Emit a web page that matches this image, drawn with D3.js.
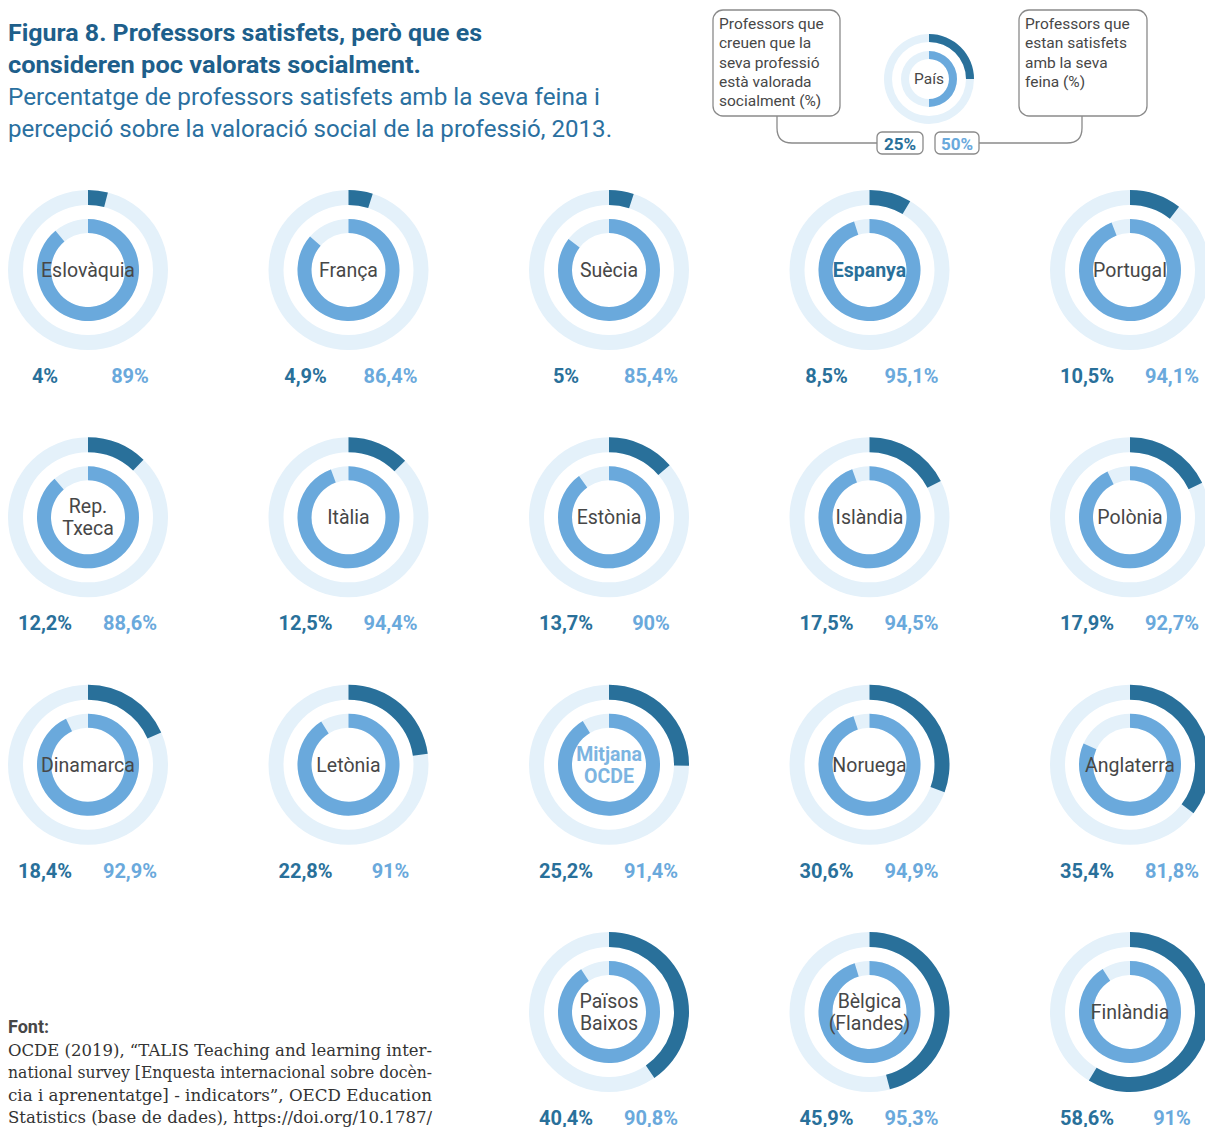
<!DOCTYPE html>
<html>
<head>
<meta charset="utf-8">
<script src="https://cdnjs.cloudflare.com/ajax/libs/d3/7.8.5/d3.min.js"></script>
<style>
  body { margin: 0; background: #fff; }
  svg { display: block; font-family: Roboto, "Noto Sans", sans-serif; }
</style>
</head>
<body>
<svg id="chart" width="1205" height="1127"></svg>
<script>
// data
var countries = ["Eslovàquia", "França", "Suècia", "Espanya", "Portugal",
  "Rep.|Txeca", "Itàlia", "Estònia", "Islàndia", "Polònia",
  "Dinamarca", "Letònia", "Mitjana|OCDE", "Noruega", "Anglaterra",
  "Països|Baixos", "Bèlgica|(Flandes)", "Finlàndia"];
var valorada = [4, 4.9, 5, 8.5, 10.5, 12.2, 12.5, 13.7, 17.5, 17.9,
  18.4, 22.8, 25.2, 30.6, 35.4, 40.4, 45.9, 58.6];
var satisfets = [89, 86.4, 85.4, 95.1, 94.1, 88.6, 94.4, 90, 94.5, 92.7,
  92.9, 91, 91.4, 94.9, 81.8, 90.8, 95.3, 91];
var legendValues = [25, 50];
var legendLeft = ["Professors que", "creuen que la", "seva professió", "està valorada", "socialment (%)"];
var legendRight = ["Professors que", "estan satisfets", "amb la seva", "feina (%)"];
var sourceLines = ["OCDE (2019), “TALIS Teaching and learning inter-",
  "national survey [Enquesta internacional sobre docèn-",
  "cia i aprenentatge] - indicators”, OECD Education",
  "Statistics (base de dades), https://doi.org/10.1787/"];

var DARK = "#29709a", LIGHT = "#6aa9dc", PALE = "#e4f1fa", GREY = "#474747";

var svg = d3.select("#chart");

function fmt(v) { return String(v).replace(".", ",") + "%"; }

var angle = d3.scaleLinear().domain([0, 100]).range([0, 2 * Math.PI]);
var x = d3.scaleLinear().domain([0, 4]).range([88, 1130]);
var y = d3.scaleLinear().domain([0, 3]).range([270, 1012]);

// title
var title = svg.append("g");
var titleW = [474, 413], subW = [592, 604];
title.selectAll("text.t")
  .data(["Figura 8. Professors satisfets, però que es", "consideren poc valorats socialment."])
  .enter().append("text")
  .attr("x", 8).attr("y", function(d, i) { return 41 + i * 32; })
  .attr("font-size", 24).attr("font-weight", 700).attr("fill", "#1e5f8b")
  .attr("textLength", function(d, i) { return titleW[i]; }).attr("lengthAdjust", "spacingAndGlyphs")
  .text(function(d) { return d; });
title.selectAll("text.s")
  .data(["Percentatge de professors satisfets amb la seva feina i", "percepció sobre la valoració social de la professió, 2013."])
  .enter().append("text")
  .attr("x", 8).attr("y", function(d, i) { return 105 + i * 32; })
  .attr("font-size", 23).attr("fill", "#2a70a0")
  .attr("textLength", function(d, i) { return subW[i]; }).attr("lengthAdjust", "spacingAndGlyphs")
  .text(function(d) { return d; });

// donuts
function donut(g, outer, inner, vOut, vIn) {
  var arcOut = d3.arc().innerRadius(outer[0]).outerRadius(outer[1]).startAngle(0);
  var arcIn = d3.arc().innerRadius(inner[0]).outerRadius(inner[1]).startAngle(0);
  g.append("path").attr("d", arcOut({ endAngle: angle(100) })).attr("fill", PALE);
  g.append("path").attr("d", arcIn({ endAngle: angle(100) })).attr("fill", PALE);
  g.append("path").attr("d", arcOut({ endAngle: angle(vOut) })).attr("fill", DARK);
  g.append("path").attr("d", arcIn({ endAngle: angle(vIn) })).attr("fill", LIGHT);
}

countries.forEach(function(name, i) {
  var pos = i < 15 ? i : i + 2;
  var cx = x(pos % 5), cy = y(Math.floor(pos / 5));
  var g = svg.append("g").attr("transform", "translate(" + cx + "," + cy + ")");
  donut(g, [65, 80], [37, 51], valorada[i], satisfets[i]);

  var lines = name.split("|");
  var col = GREY, fw = 400;
  if (name === "Espanya") { col = DARK; fw = 700; }
  if (name === "Mitjana|OCDE") { col = "#7cb4e1"; fw = 700; }
  g.selectAll("text.name").data(lines).enter().append("text")
    .attr("text-anchor", "middle")
    .attr("y", function(d, j) { return 7 + (j - (lines.length - 1) / 2) * 22; })
    .attr("font-size", 19.5).attr("font-weight", fw).attr("fill", col)
    .text(function(d) { return d; });

  g.append("text").attr("x", -43).attr("y", 113).attr("text-anchor", "middle")
    .attr("font-size", 20).attr("font-weight", 700).attr("fill", DARK)
    .text(fmt(valorada[i]));
  g.append("text").attr("x", 42).attr("y", 113).attr("text-anchor", "middle")
    .attr("font-size", 20).attr("font-weight", 700).attr("fill", LIGHT)
    .text(fmt(satisfets[i]));
});

// legend
var lg = svg.append("g");
var ld = lg.append("g").attr("transform", "translate(929,79)");
donut(ld, [37, 45], [20, 28], legendValues[0], legendValues[1]);
ld.append("text").attr("text-anchor", "middle").attr("y", 5)
  .attr("font-size", 15.5).attr("fill", GREY).text("País");

lg.append("path")
  .attr("d", "M777,116 V128 Q777,143 792,143 H878 M979,143 H1067 Q1082,143 1082,128 V116")
  .attr("fill", "none").attr("stroke", "#8a8a8a").attr("stroke-width", 1.3);
lg.append("rect").attr("x", 713).attr("y", 10).attr("width", 127).attr("height", 106)
  .attr("rx", 10).attr("fill", "#fff").attr("stroke", "#8a8a8a").attr("stroke-width", 1.3);
lg.append("rect").attr("x", 1019).attr("y", 10).attr("width", 128).attr("height", 106)
  .attr("rx", 10).attr("fill", "#fff").attr("stroke", "#8a8a8a").attr("stroke-width", 1.3);
lg.selectAll("text.ll").data(legendLeft).enter().append("text")
  .attr("x", 719).attr("y", function(d, i) { return 29 + i * 19.3; })
  .attr("font-size", 15.5).attr("fill", GREY).text(function(d) { return d; });
lg.selectAll("text.lr").data(legendRight).enter().append("text")
  .attr("x", 1025).attr("y", function(d, i) { return 29 + i * 19.3; })
  .attr("font-size", 15.5).attr("fill", GREY).text(function(d) { return d; });

[[877, 46, legendValues[0], DARK], [935, 44, legendValues[1], LIGHT]].forEach(function(b) {
  lg.append("rect").attr("x", b[0]).attr("y", 132).attr("width", b[1]).attr("height", 22)
    .attr("rx", 5).attr("fill", "#fff").attr("stroke", "#8a8a8a").attr("stroke-width", 1.3);
  lg.append("text").attr("x", b[0] + b[1] / 2).attr("y", 149.5).attr("text-anchor", "middle")
    .attr("font-size", 17).attr("font-weight", 700).attr("fill", b[3]).text(b[2] + "%");
});

// source
svg.append("text").attr("x", 8).attr("y", 1033)
  .attr("font-size", 18).attr("font-weight", 700).attr("fill", GREY).text("Font:");
svg.selectAll("text.src").data(sourceLines).enter().append("text")
  .attr("x", 8).attr("y", function(d, i) { return 1056 + i * 22.3; })
  .attr("font-family", "'DejaVu Serif', serif").attr("font-size", 16.5).attr("fill", "#333")
  .attr("textLength", 424).attr("lengthAdjust", "spacingAndGlyphs")
  .text(function(d) { return d; });
</script>
</body>
</html>
